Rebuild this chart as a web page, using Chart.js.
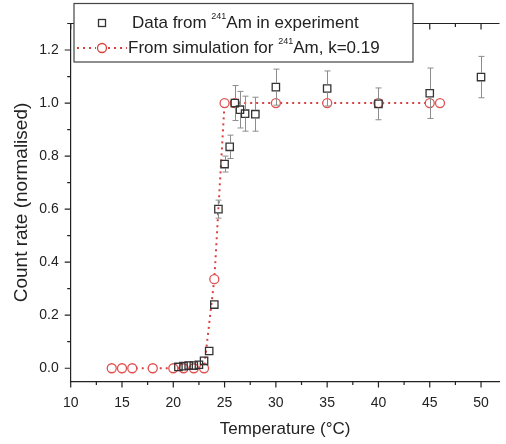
<!DOCTYPE html>
<html>
<head>
<meta charset="utf-8">
<script src="https://cdn.jsdelivr.net/npm/chart.js@4"></script>
<style>
  html, body { margin: 0; padding: 0; background: #fff; }
  #wrap { width: 506px; height: 444px; }
</style>
</head>
<body>
<div id="wrap"><canvas id="chart" width="506" height="444"></canvas></div>
<script>
// experiment (black squares with error bars)
const expTemp = [20.5, 21, 21.5, 22, 22.5, 23, 23.5, 24, 24.4, 25, 25.5, 26, 26.5, 27, 28, 30, 35, 40, 45, 50];
const expRate = [0.005, 0.008, 0.01, 0.01, 0.013, 0.028, 0.065, 0.24, 0.6, 0.77, 0.835, 1.0, 0.975, 0.96, 0.958, 1.06, 1.055, 0.997, 1.037, 1.098];
const expErr  = [0, 0, 0, 0, 0, 0.005, 0.008, 0.015, 0.034, 0.03, 0.044, 0.066, 0.069, 0.066, 0.064, 0.068, 0.066, 0.06, 0.095, 0.078];

// simulation (red circles, dotted line)
const simTemp = [14, 15, 16, 18, 20, 21, 22, 23, 24, 25, 26, 30, 35, 40, 45, 46];
const simRate = [0, 0, 0, 0, 0, 0, 0, 0, 0.336, 1, 1, 1, 1, 1, 1, 1];

const xTicks = [10, 15, 20, 25, 30, 35, 40, 45, 50];
const yTicks = [0, 0.2, 0.4, 0.6, 0.8, 1.0, 1.2];

const FONT = "'Liberation Sans', Arial, sans-serif";
const axisColor = '#222';
const red = '#d8413f';

// ticks, error bars and the boxed legend, Origin style
const frame = {
  id: 'frame',
  afterDatasetsDraw(chart) {
    const ctx = chart.ctx, y = chart.scales.y;
    const meta = chart.getDatasetMeta(0);
    ctx.save();
    ctx.strokeStyle = '#8c8c8c';
    ctx.lineWidth = 1;
    meta.data.forEach((pt, i) => {
      const e = expErr[i];
      if (!e) return;
      const px = Math.round(pt.x) + 0.5, py = pt.y;
      const top = y.getPixelForValue(expRate[i] + e);
      const bot = y.getPixelForValue(expRate[i] - e);
      const half = 4;
      ctx.beginPath();
      if (py - half > top) {
        ctx.moveTo(px, py - half); ctx.lineTo(px, top);
        ctx.moveTo(px - 3, top); ctx.lineTo(px + 3, top);
      }
      if (py + half < bot) {
        ctx.moveTo(px, py + half); ctx.lineTo(px, bot);
        ctx.moveTo(px - 3, bot); ctx.lineTo(px + 3, bot);
      }
      ctx.stroke();
    });
    ctx.restore();
  },
  afterDraw(chart) {
    const ctx = chart.ctx, x = chart.scales.x, y = chart.scales.y;
    const a = chart.chartArea;
    ctx.save();
    ctx.strokeStyle = axisColor;
    ctx.lineWidth = 1.2;
    // top axis line
    ctx.beginPath();
    ctx.moveTo(a.left, a.top); ctx.lineTo(a.right, a.top);
    ctx.stroke();

    ctx.beginPath();
    // x ticks: bottom outward, top inward
    for (let v = 10; v <= x.max; v += 2.5) {
      const px = x.getPixelForValue(v);
      const major = v % 5 === 0;
      const len = major ? 6 : 3.5;
      ctx.moveTo(px, a.bottom); ctx.lineTo(px, a.bottom + len);
      ctx.moveTo(px, a.top); ctx.lineTo(px, a.top + len);
    }
    // y ticks: left outward
    for (let k = 0; k <= 13; k++) {
      const py = y.getPixelForValue(k / 10);
      const len = k % 2 === 0 ? 6 : 3.5;
      ctx.moveTo(a.left, py); ctx.lineTo(a.left - len, py);
    }
    ctx.stroke();

    // legend box
    const bx = 74, by = 3.5, bw = 339, bh = 58.5;
    ctx.fillStyle = '#fff';
    ctx.fillRect(bx, by, bw, bh);
    ctx.lineWidth = 1.2;
    ctx.strokeStyle = '#444';
    ctx.strokeRect(bx, by, bw, bh);

    // row 1 symbol: square
    ctx.strokeStyle = '#333';
    ctx.lineWidth = 1.3;
    ctx.strokeRect(98.5, 19.5, 7, 7);
    // row 2 symbol: dotted line + circle
    ctx.strokeStyle = red;
    ctx.lineWidth = 2;
    ctx.setLineDash([2, 4]);
    ctx.beginPath();
    ctx.moveTo(77, 48); ctx.lineTo(96, 48);
    ctx.moveTo(108, 48); ctx.lineTo(127, 48);
    ctx.stroke();
    ctx.setLineDash([]);
    ctx.lineWidth = 1.3;
    ctx.beginPath();
    ctx.arc(102, 48, 4.5, 0, Math.PI * 2);
    ctx.stroke();

    const drawRich = (parts, x0, y0) => {
      let cx = x0;
      ctx.textBaseline = 'middle';
      ctx.textAlign = 'left';
      ctx.fillStyle = '#222';
      parts.forEach(p => {
        ctx.font = (p.sup ? '9px ' : '17px ') + FONT;
        ctx.fillText(p.t, cx, p.sup ? y0 - 6 : y0);
        cx += ctx.measureText(p.t).width;
      });
    };
    drawRich([{ t: 'Data from ' }, { t: '241', sup: true }, { t: 'Am in experiment' }], 132, 23);
    drawRich([{ t: 'From simulation for ' }, { t: '241', sup: true }, { t: 'Am, k=0.19' }], 128, 48);
    ctx.restore();
  }
};

new Chart(document.getElementById('chart'), {
  type: 'line',
  data: {
    datasets: [
      {
        label: 'Data from 241Am in experiment',
        data: expTemp.map((t, i) => ({ x: t, y: expRate[i] })),
        showLine: false,
        pointStyle: 'rect',
        pointRadius: 5.2,
        pointBorderWidth: 1.3,
        pointBorderColor: '#333',
        pointBackgroundColor: 'rgba(0,0,0,0)'
      },
      {
        label: 'From simulation for 241Am, k=0.19',
        data: simTemp.map((t, i) => ({ x: t, y: simRate[i] })),
        borderColor: red,
        borderWidth: 2,
        borderDash: [2, 4],
        tension: 0,
        pointStyle: 'circle',
        pointRadius: 4.5,
        pointBorderWidth: 1.3,
        pointBorderColor: '#e05050',
        pointBackgroundColor: '#fff'
      }
    ]
  },
  options: {
    responsive: false,
    animation: false,
    devicePixelRatio: 1,
    layout: { padding: { top: 23.5, right: 0, left: 0, bottom: 0 } },
    plugins: { legend: { display: false }, tooltip: { enabled: false } },
    scales: {
      x: {
        type: 'linear',
        min: 10,
        max: 51.8,
        afterBuildTicks: s => { s.ticks = xTicks.map(v => ({ value: v })); },
        afterFit: s => { s.height = 62.5; },
        grid: { display: false, drawTicks: false },
        border: { display: true, color: axisColor, width: 1.2 },
        ticks: { color: '#222', padding: 13, maxRotation: 0, font: { family: FONT, size: 14 } },
        title: {
          display: true,
          text: 'Temperature (°C)',
          color: '#222',
          padding: { top: 0, bottom: 4 },
          font: { family: FONT, size: 17 }
        }
      },
      y: {
        type: 'linear',
        min: -0.05,
        max: 1.3,
        afterBuildTicks: s => { s.ticks = yTicks.map(v => ({ value: v })); },
        afterFit: s => { s.width = 70.7; },
        grid: { display: false, drawTicks: false },
        border: { display: true, color: axisColor, width: 1.2 },
        ticks: {
          color: '#222',
          padding: 12,
          font: { family: FONT, size: 14 },
          callback: v => v.toFixed(1)
        },
        title: {
          display: true,
          text: 'Count rate (normalised)',
          color: '#222',
          padding: { top: 10.5, bottom: 0 },
          font: { family: FONT, size: 19 }
        }
      }
    }
  },
  plugins: [frame]
});
</script>
</body>
</html>
